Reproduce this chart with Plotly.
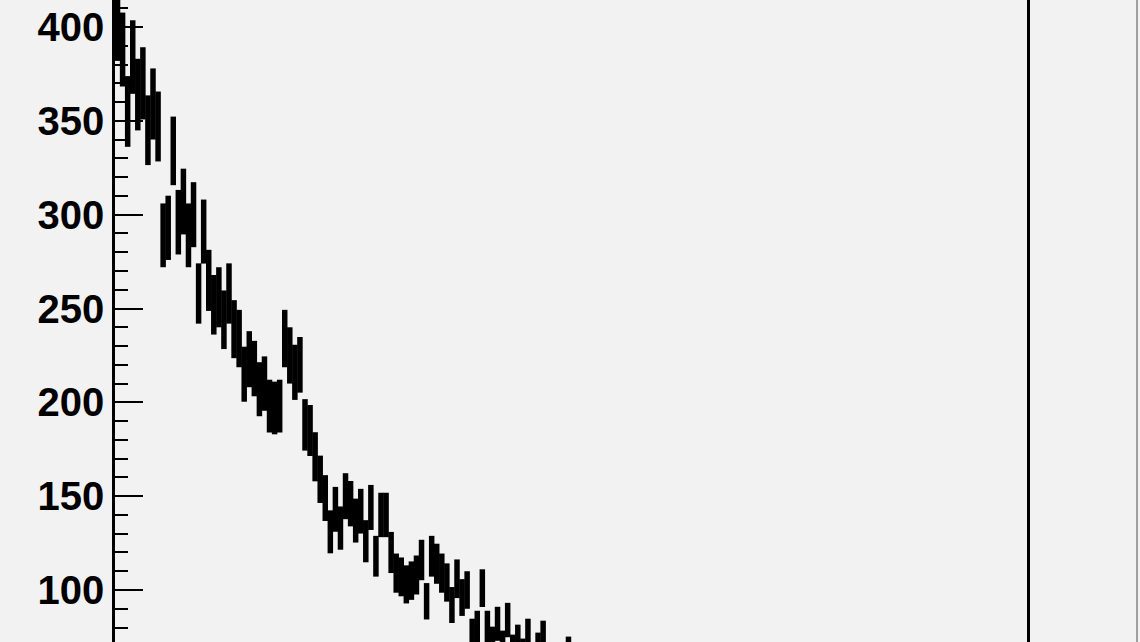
import numpy as np
import plotly.graph_objects as go

# Histogram bin contents; bins are unit-width, 180 bins on the x range
counts = [402, 388, 355, 384, 364, 370, 345, 359, 347, 289,
          293, 334, 296, 307, 289, 300, 258, 291, 265, 252,
          256, 244, 258, 239, 234, 215, 223, 218, 207, 210,
          198, 197, 198, 234, 225, 216, 220, 188, 185, 171,
          159, 149, 131, 143, 133, 150, 146, 137, 142, 126,
          144, 118, 140, 140, 120, 109, 107, 103, 105, 108,
          116, 94, 118, 114, 109, 104, 92, 106, 96, 100,
          76, 80, 101, 80, 72, 82, 70, 84, 68, 73,
          66, 76, 64, 69, 75, 60, 58, 62, 59, 67]
n_bins = 180
y_tick_values = [100, 150, 200, 250, 300, 350, 400]
y_range = [72.3, 414.4]

centers = [i + 0.5 for i in range(len(counts))]
errors = np.sqrt(np.array(counts, dtype=float))

fig = go.Figure()
fig.add_trace(go.Scatter(
    x=centers, y=counts, mode="markers",
    marker=dict(size=1, color="black"),
    error_y=dict(type="data", array=errors, thickness=5.5, width=0, color="black"),
    hoverinfo="skip",
))

bg = "#f2f2f2"
fig.update_layout(
    width=1140, height=642,
    margin=dict(l=115, r=113, t=0, b=0),
    paper_bgcolor=bg, plot_bgcolor=bg,
    showlegend=False,
    xaxis=dict(range=[0, n_bins], showticklabels=False, showline=False,
               showgrid=False, zeroline=False, ticks=""),
    yaxis=dict(range=y_range, tickvals=y_tick_values, ticks="inside",
               ticklen=28, tickwidth=1.5, tickcolor="black",
               showline=True, linecolor="black", linewidth=2.5, mirror=True,
               showgrid=False, zeroline=False,
               tickfont=dict(family="Liberation Sans, Arial, sans-serif", size=40,
                             color="black", weight="bold"),
               minor=dict(dtick=10, ticks="inside", ticklen=13, tickwidth=1.8,
                          tickcolor="black", showgrid=False)),
    shapes=[dict(type="line", xref="paper", yref="paper",
                 x0=(1137 - 115) / 912, x1=(1137 - 115) / 912, y0=0, y1=1,
                 line=dict(color="#a0a0a0", width=2))],
)

fig.write_html("out.html",
               config={"displayModeBar": False},
               post_script="document.body.style.margin='0';document.body.style.overflow='hidden';")
